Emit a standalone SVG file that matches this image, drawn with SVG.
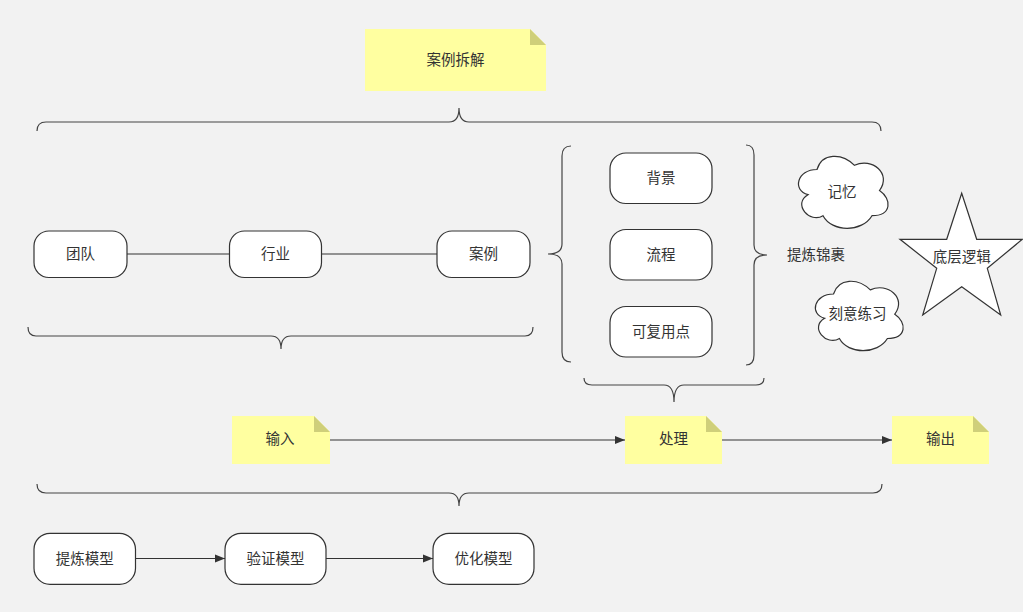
<svg xmlns="http://www.w3.org/2000/svg" width="1023" height="612" viewBox="0 0 1023 612">
<style>
text{font-family:"Liberation Sans","Noto Sans CJK SC",sans-serif;font-size:14.5px;fill:#333;text-anchor:middle;dominant-baseline:central}
.n{fill:#fff;stroke:#333;stroke-width:1.2}
.note{fill:#ffffa0;stroke:none}
.fold{fill:#cfcf7a;stroke:none}
.br{fill:none;stroke:#444;stroke-width:1.2}
.ln{fill:none;stroke:#333;stroke-width:1.2}
.ar{fill:none;stroke:#333;stroke-width:1.2;marker-end:url(#ah)}
</style>
<defs>
<marker id="ah" markerUnits="userSpaceOnUse" markerWidth="12" markerHeight="10" refX="10" refY="4" orient="auto" viewBox="0 0 12 8">
<path d="M0,0 L10,4 L0,8 Z" fill="#333"/>
</marker>
</defs>
<rect x="0" y="0" width="1023" height="612" fill="#f2f2f2"/>

<g id="connectors">
<line class="ln" x1="127" y1="254" x2="229.5" y2="254"/>
<line class="ln" x1="321.7" y1="254" x2="437" y2="254"/>
<line class="ar" x1="330" y1="440" x2="625" y2="440"/>
<line class="ar" x1="722" y1="440" x2="892" y2="440"/>
<line class="ar" x1="135.5" y1="558.5" x2="225" y2="558.5"/>
<line class="ar" x1="326" y1="558.5" x2="433" y2="558.5"/>
</g>

<g id="braces">
<path class="br" d="M37,131 Q37,122 46,122 L449,122 Q459,122 459,108 Q459,122 469,122 L872,122 Q881,122 881,131"/>
<path class="br" d="M28,327 Q28,336 36,336 L271,336 Q281,336 281,349 Q281,336 291,336 L525,336 Q533,336 533,327"/>
<path class="br" d="M584,378 Q584,385 592,385 L664,385 Q674,385 674,402 Q674,385 684,385 L756,385 Q764,385 764,378"/>
<path class="br" d="M37,484 Q37,493 46,493 L449,493 Q459,493 459,506 Q459,493 469,493 L873,493 Q882,493 882,484"/>
<path class="br" d="M571,146 Q562,146 562,156 L562,244 Q562,254 548,254 Q562,254 562,264 L562,352 Q562,362 571,362"/>
<path class="br" d="M746,145 Q754,145 754,155 L754,245 Q754,255 767,255 Q754,255 754,265 L754,355 Q754,365 746,365"/>
</g>

<g id="note-top">
<path class="note" d="M365,29 L530,29 L546,45 L546,91 L365,91 Z"/>
<path class="fold" d="M530,29 L530,45 L546,45 Z"/>
<text x="455.5" y="60">案例拆解</text>
</g>

<g id="n-team"><rect class="n" x="34" y="231" width="93" height="46.5" rx="15"/><text x="80.5" y="254">团队</text></g>
<g id="n-industry"><rect class="n" x="229.5" y="231" width="92" height="46.5" rx="15"/><text x="275.5" y="254">行业</text></g>
<g id="n-case"><rect class="n" x="437" y="231" width="93" height="46.5" rx="15"/><text x="483.5" y="254">案例</text></g>

<g id="n-bg"><rect class="n" x="610" y="153" width="102" height="50.5" rx="16"/><text x="661" y="178">背景</text></g>
<g id="n-flow"><rect class="n" x="610" y="229.5" width="102" height="50.5" rx="16"/><text x="661" y="254.5">流程</text></g>
<g id="n-reuse"><rect class="n" x="610" y="306.5" width="102" height="50.5" rx="16"/><text x="661" y="331.5">可复用点</text></g>

<g id="t-refine"><text x="816" y="254.5">提炼锦裹</text></g>

<g id="cloud-memory">
<path class="n" d="M817,169.5 C797,169.5 792,190.5 808,194.7 C792,203.9 810,224.1 823,215.7 C832,232.5 862,232.5 872,215.7 C892,215.7 892,198.9 879.5,190.5 C892,173.7 872,156.9 854.5,165.3 C842,152.7 822,152.7 817,169.5 Z"/>
<text x="842" y="192">记忆</text>
</g>
<g id="cloud-practice">
<path class="n" d="M833.5,294 C813.9,294 809,314.2 824.7,318.3 C809,327.2 826.6,346.6 839.4,338.5 C848.2,354.7 877.6,354.7 887.4,338.5 C907,338.5 907,322.3 894.8,314.2 C907,298 887.4,281.8 870.3,289.9 C858,277.8 838.4,277.8 833.5,294 Z"/>
<text x="857.5" y="313.5">刻意练习</text>
</g>

<g id="star-logic">
<polygon class="n" points="961.7,193.3 976.7,239.3 1022.3,239.3 987.3,268.3 1000.7,315 961.7,286.7 922.7,315 936.7,268.3 900,239.3 946.7,239.3"/>
<text x="961.7" y="256.5">底层逻辑</text>
</g>

<g id="note-input">
<path class="note" d="M232,416 L314,416 L330,432 L330,464 L232,464 Z"/>
<path class="fold" d="M314,416 L314,432 L330,432 Z"/>
<text x="280" y="439">输入</text>
</g>
<g id="note-process">
<path class="note" d="M625,416 L706,416 L722,432 L722,464 L625,464 Z"/>
<path class="fold" d="M706,416 L706,432 L722,432 Z"/>
<text x="673.5" y="439">处理</text>
</g>
<g id="note-output">
<path class="note" d="M892,416 L973,416 L989,432 L989,464 L892,464 Z"/>
<path class="fold" d="M973,416 L973,432 L989,432 Z"/>
<text x="940.5" y="439">输出</text>
</g>

<g id="n-extract"><rect class="n" x="34" y="533.3" width="101.5" height="51" rx="16"/><text x="84.7" y="558.5">提炼模型</text></g>
<g id="n-verify"><rect class="n" x="225" y="533.3" width="101" height="51" rx="16"/><text x="275.5" y="558.5">验证模型</text></g>
<g id="n-optimize"><rect class="n" x="433" y="533.3" width="101" height="51" rx="16"/><text x="483.5" y="558.5">优化模型</text></g>
</svg>
